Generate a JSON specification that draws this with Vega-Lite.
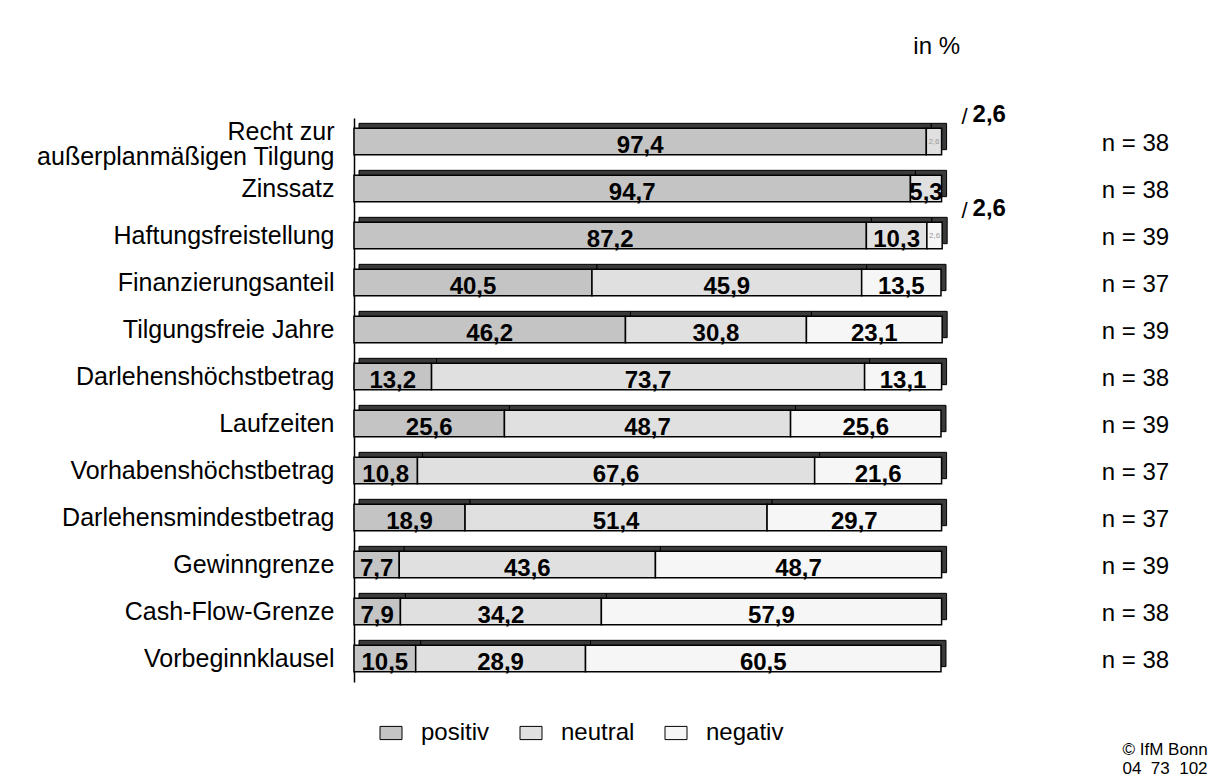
{
  "$schema": "https://vega.github.io/schema/vega-lite/v6.json",
  "autosize": "none",
  "width": 852,
  "height": 564,
  "padding": {"left": 354, "top": 118, "right": 7, "bottom": 94},
  "background": "#ffffff",
  "config": {
    "view": {"stroke": null},
    "font": "Liberation Sans",
    "locale": {"number": {"decimal": ",", "thousands": ".", "grouping": [3], "currency": ["", " €"]}}
  },
  "title": {
    "text": "in %",
    "orient": "top",
    "anchor": "end",
    "frame": "group",
    "fontSize": 24,
    "fontWeight": "normal",
    "font": "Liberation Sans",
    "color": "#000000",
    "baseline": "alphabetic",
    "dx": -246,
    "offset": 25
  },
  "datasets": {
    "shares": [
      {"item": "Recht zur|außerplanmäßigen Tilgung", "category": "positiv", "value": 97.4},
      {"item": "Recht zur|außerplanmäßigen Tilgung", "category": "neutral", "value": 2.6},
      {"item": "Recht zur|außerplanmäßigen Tilgung", "category": "negativ", "value": 0},
      {"item": "Zinssatz", "category": "positiv", "value": 94.7},
      {"item": "Zinssatz", "category": "neutral", "value": 5.3},
      {"item": "Zinssatz", "category": "negativ", "value": 0},
      {"item": "Haftungsfreistellung", "category": "positiv", "value": 87.2},
      {"item": "Haftungsfreistellung", "category": "neutral", "value": 10.3},
      {"item": "Haftungsfreistellung", "category": "negativ", "value": 2.6},
      {"item": "Finanzierungsanteil", "category": "positiv", "value": 40.5},
      {"item": "Finanzierungsanteil", "category": "neutral", "value": 45.9},
      {"item": "Finanzierungsanteil", "category": "negativ", "value": 13.5},
      {"item": "Tilgungsfreie Jahre", "category": "positiv", "value": 46.2},
      {"item": "Tilgungsfreie Jahre", "category": "neutral", "value": 30.8},
      {"item": "Tilgungsfreie Jahre", "category": "negativ", "value": 23.1},
      {"item": "Darlehenshöchstbetrag", "category": "positiv", "value": 13.2},
      {"item": "Darlehenshöchstbetrag", "category": "neutral", "value": 73.7},
      {"item": "Darlehenshöchstbetrag", "category": "negativ", "value": 13.1},
      {"item": "Laufzeiten", "category": "positiv", "value": 25.6},
      {"item": "Laufzeiten", "category": "neutral", "value": 48.7},
      {"item": "Laufzeiten", "category": "negativ", "value": 25.6},
      {"item": "Vorhabenshöchstbetrag", "category": "positiv", "value": 10.8},
      {"item": "Vorhabenshöchstbetrag", "category": "neutral", "value": 67.6},
      {"item": "Vorhabenshöchstbetrag", "category": "negativ", "value": 21.6},
      {"item": "Darlehensmindestbetrag", "category": "positiv", "value": 18.9},
      {"item": "Darlehensmindestbetrag", "category": "neutral", "value": 51.4},
      {"item": "Darlehensmindestbetrag", "category": "negativ", "value": 29.7},
      {"item": "Gewinngrenze", "category": "positiv", "value": 7.7},
      {"item": "Gewinngrenze", "category": "neutral", "value": 43.6},
      {"item": "Gewinngrenze", "category": "negativ", "value": 48.7},
      {"item": "Cash-Flow-Grenze", "category": "positiv", "value": 7.9},
      {"item": "Cash-Flow-Grenze", "category": "neutral", "value": 34.2},
      {"item": "Cash-Flow-Grenze", "category": "negativ", "value": 57.9},
      {"item": "Vorbeginnklausel", "category": "positiv", "value": 10.5},
      {"item": "Vorbeginnklausel", "category": "neutral", "value": 28.9},
      {"item": "Vorbeginnklausel", "category": "negativ", "value": 60.5}
    ],
    "counts": [
      {"item": "Recht zur|außerplanmäßigen Tilgung", "n": "n = 38"},
      {"item": "Zinssatz", "n": "n = 38"},
      {"item": "Haftungsfreistellung", "n": "n = 39"},
      {"item": "Finanzierungsanteil", "n": "n = 37"},
      {"item": "Tilgungsfreie Jahre", "n": "n = 39"},
      {"item": "Darlehenshöchstbetrag", "n": "n = 38"},
      {"item": "Laufzeiten", "n": "n = 39"},
      {"item": "Vorhabenshöchstbetrag", "n": "n = 37"},
      {"item": "Darlehensmindestbetrag", "n": "n = 37"},
      {"item": "Gewinngrenze", "n": "n = 39"},
      {"item": "Cash-Flow-Grenze", "n": "n = 38"},
      {"item": "Vorbeginnklausel", "n": "n = 38"}
    ],
    "callouts": [
      {"item": "Recht zur|außerplanmäßigen Tilgung", "label": "2,6"},
      {"item": "Haftungsfreistellung", "label": "2,6"}
    ]
  },
  "encoding": {
    "y": {
      "field": "item",
      "type": "nominal",
      "sort": [
        "Recht zur|außerplanmäßigen Tilgung", "Zinssatz", "Haftungsfreistellung", "Finanzierungsanteil",
        "Tilgungsfreie Jahre", "Darlehenshöchstbetrag", "Laufzeiten", "Vorhabenshöchstbetrag",
        "Darlehensmindestbetrag", "Gewinngrenze", "Cash-Flow-Grenze", "Vorbeginnklausel"
      ],
      "scale": {"paddingInner": 0.44, "paddingOuter": 0.22},
      "axis": {
        "title": ["© IfM Bonn", "04\u00a0\u00a073\u00a0\u00a0102"],
        "titleAngle": 0,
        "titleX": 768,
        "titleY": 636,
        "titleAlign": "left",
        "titleBaseline": "alphabetic",
        "titleFontSize": 17,
        "titleFontWeight": "normal",
        "titleFont": "Liberation Sans",
        "titleColor": "#000000",
        "titleLineHeight": 19,
        "ticks": false,
        "domain": true,
        "domainColor": "#000000",
        "domainWidth": 1.5,
        "labelFontSize": 25,
        "labelFont": "Liberation Sans",
        "labelColor": "#000000",
        "labelPadding": 20,
        "labelLimit": 400,
        "labelLineHeight": 25,
        "labelExpr": "split(datum.label, '|')",
        "labelOffset": {"condition": {"test": "indexof(datum.value, '|') >= 0", "value": -10}, "value": 0}
      }
    }
  },
  "layer": [
    {
      "data": {"name": "shares"},
      "transform": [{"filter": "datum.value > 0"}],
      "mark": {"type": "bar", "fill": "#3a3a3a", "stroke": "#000000", "strokeWidth": 1, "xOffset": 5, "x2Offset": 5, "yOffset": -5, "y2Offset": -5},
      "encoding": {
        "x": {
          "field": "value",
          "type": "quantitative",
          "stack": "zero",
          "scale": {"domain": [0, 145], "nice": false, "zero": true},
          "axis": null
        },
        "order": {"field": "category", "sort": "descending"}
      }
    },
    {
      "data": {"name": "shares"},
      "transform": [{"filter": "datum.value > 0"}],
      "mark": {"type": "bar", "stroke": "#000000", "strokeWidth": 1.5},
      "encoding": {
        "x": {"field": "value", "type": "quantitative", "stack": "zero", "axis": null},
        "order": {"field": "category", "sort": "descending"},
        "color": {
          "field": "category",
          "type": "nominal",
          "scale": {"domain": ["positiv", "neutral", "negativ"], "range": ["#c4c4c4", "#e0e0e0", "#f6f6f6"]},
          "legend": {
            "title": null,
            "orient": "none",
            "direction": "horizontal",
            "legendX": 25,
            "legendY": 603,
            "symbolType": "M-1,-0.6H1V0.6H-1Z",
            "symbolSize": 484,
            "symbolStrokeColor": "#000000",
            "symbolStrokeWidth": 1,
            "labelFontSize": 24,
            "labelFont": "Liberation Sans",
            "labelColor": "#000000",
            "labelOffset": 18,
            "columnPadding": 28
          }
        }
      }
    },
    {
      "data": {"name": "shares"},
      "transform": [
        {"stack": "value", "groupby": ["item"], "sort": [{"field": "category", "order": "descending"}], "as": ["v0", "v1"]},
        {"filter": "datum.value >= 5"},
        {"calculate": "(datum.v0 + datum.v1) / 2", "as": "mid"}
      ],
      "mark": {"type": "text", "fontSize": 24, "fontWeight": "bold", "font": "Liberation Sans", "color": "#000000", "baseline": "alphabetic", "align": "center", "dy": 11},
      "encoding": {
        "x": {"field": "mid", "type": "quantitative", "axis": null},
        "text": {"field": "value", "type": "quantitative", "format": ".1f"}
      }
    },
    {
      "data": {"name": "shares"},
      "transform": [
        {"stack": "value", "groupby": ["item"], "sort": [{"field": "category", "order": "descending"}], "as": ["v0", "v1"]},
        {"filter": "datum.value > 0 && datum.value < 5"},
        {"calculate": "(datum.v0 + datum.v1) / 2", "as": "mid"}
      ],
      "mark": {"type": "text", "fontSize": 8, "font": "Liberation Sans", "color": "#999999", "baseline": "middle", "align": "center"},
      "encoding": {
        "x": {"field": "mid", "type": "quantitative", "axis": null},
        "text": {"field": "value", "type": "quantitative", "format": ".1f"}
      }
    },
    {
      "data": {"name": "counts"},
      "mark": {"type": "text", "fontSize": 24, "font": "Liberation Sans", "color": "#000000", "baseline": "alphabetic", "align": "center", "dy": 9},
      "encoding": {
        "x": {"datum": 133, "type": "quantitative", "axis": null},
        "text": {"field": "n", "type": "nominal"}
      }
    },
    {
      "data": {"name": "callouts"},
      "mark": {"type": "text", "fontSize": 24, "fontWeight": "bold", "font": "Liberation Sans", "color": "#000000", "baseline": "alphabetic", "align": "left", "dx": 31, "dy": -20},
      "encoding": {
        "x": {"datum": 100, "type": "quantitative", "axis": null},
        "text": {"field": "label", "type": "nominal"}
      }
    },
    {
      "data": {"name": "callouts"},
      "mark": {"type": "text", "fontSize": 22, "font": "Liberation Sans", "color": "#000000", "baseline": "alphabetic", "align": "center", "dx": 23, "dy": -18, "text": "/"},
      "encoding": {
        "x": {"datum": 100, "type": "quantitative", "axis": null}
      }
    }
  ]
}
